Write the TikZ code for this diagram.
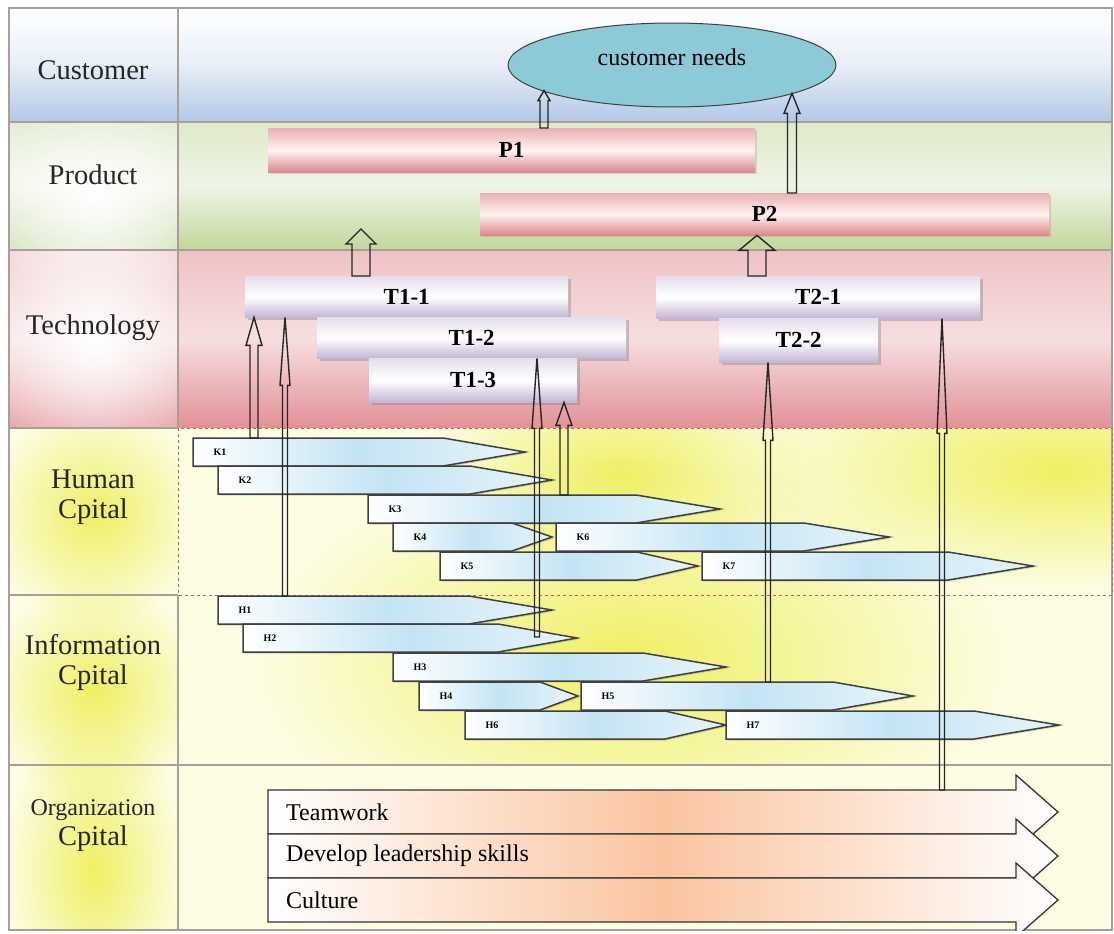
\documentclass[tikz,border=0pt]{standalone}
\usepackage{fontspec}
\setmainfont{Liberation Serif}
\usepackage{tikz}
\usetikzlibrary{calc,shapes,shadows,fadings}
\usepackage{xcolor}
\definecolor{custblue}{RGB}{178,200,230}
\definecolor{prodgreen}{RGB}{190,212,150}
\definecolor{techred}{RGB}{226,145,150}
\definecolor{capyellow}{RGB}{253,253,228}
\definecolor{glowyellow}{RGB}{240,240,100}
\definecolor{needsblue}{RGB}{140,202,216}
\definecolor{lavender}{RGB}{196,182,214}
\definecolor{barred}{RGB}{222,135,140}
\definecolor{chevblue}{RGB}{196,228,244}
\definecolor{peach}{RGB}{250,196,160}
\definecolor{gridgray}{RGB}{170,158,155}
\tikzfading[name=glow, inner color=transparent!0, outer color=transparent!100]
\tikzstyle{gridline}=[draw=gridgray, line width=1.2pt]
\tikzstyle{humanline}=[draw=red!45!gridgray, line width=1pt, dashed]
\tikzstyle{rowlabel}=[font=\fontsize{28.5}{30}\selectfont, align=center, text=black!85]
\tikzstyle{needs}=[ellipse, draw=black!75, line width=1pt, fill=needsblue, minimum width=328pt, minimum height=84pt, inner sep=0pt, text depth=16pt, font=\fontsize{24}{24}\selectfont]
\tikzstyle{prodbar}=[rectangle, anchor=north west, inner sep=0pt, top color=barred!65!white, bottom color=barred, middle color=red!5!white, font=\bfseries\fontsize{23}{23}\selectfont, drop shadow={shadow xshift=2pt, shadow yshift=-2pt, opacity=0.25}]
\tikzstyle{techbox}=[rectangle, anchor=north west, inner sep=0pt, top color=lavender!45!white, bottom color=lavender, middle color=white, font=\bfseries\fontsize{23}{23}\selectfont, drop shadow={shadow xshift=3pt, shadow yshift=-3pt, opacity=0.4}]
\tikzstyle{chev}=[draw=black!75, line width=1.5pt, left color=white, right color=chevblue!40!white, middle color=chevblue, drop shadow={shadow xshift=1.5pt, shadow yshift=-1.5pt, opacity=0.3}]
\tikzstyle{chevlabel}=[font=\bfseries\fontsize{10}{10}\selectfont, inner sep=0pt]
\tikzstyle{orgarrow}=[draw=black!80, line width=1.3pt, left color=white, right color=white, middle color=peach]
\tikzstyle{orglabel}=[anchor=west, inner sep=0pt, font=\fontsize{24}{24}\selectfont]
\tikzstyle{uparrow}=[draw=black!85, line width=1.4pt]
\newcommand{\chevron}[6]{
	\draw[chev] (#2,#3) -- (#4,#3) -- (#5,#3+14) -- (#4,#3+28) -- (#2,#3+28) -- cycle;
	\coordinate (#1) at (#2,#3);
	\node[chevlabel] (#1txt) at (#2+27,#3+14) {#6};
}
\newcommand{\orgArrow}[3]{
	\draw[orgarrow] (268,#2) -- (1016,#2) -- (1016,#2-15) -- (1058,#2+22) -- (1016,#2+59) -- (1016,#2+44) -- (268,#2+44) -- cycle;
	\coordinate (#1) at (268,#2);
	\node[orglabel] (#1txt) at (286,#2+22) {#3};
}
\newcommand{\hollowUp}[5]{
	\draw[uparrow] let \p1=#1, \p2=#2 in (\x1-#3pt,\y1) -- (\x1-#3pt,\y2-#5pt) -- (\x1-#4pt,\y2-#5pt) -- (\x1,\y2) -- (\x1+#4pt,\y2-#5pt) -- (\x1+#3pt,\y2-#5pt) -- (\x1+#3pt,\y1) -- cycle;
}
\begin{document}
\begin{tikzpicture}[x=1pt,y=-1pt]
	\useasboundingbox (0,0) rectangle (1114,934);
	\fill[white] (0,0) rectangle (1114,934);
	% rows
	\fill[top color=white, bottom color=custblue, middle color=custblue!30!white] (9,8) rectangle (1112,122);
	\fill[top color=prodgreen!50!white, bottom color=prodgreen!95!white, middle color=prodgreen!25!white] (9,122) rectangle (1112,250);
	\fill[top color=techred!55!white, bottom color=techred, middle color=techred!30!white] (9,250) rectangle (1112,428);
	\fill[capyellow] (9,428) rectangle (1112,930);
	% glows
	\begin{scope}
		\clip (9,122) rectangle (178,428);
		\fill[white, path fading=glow] (95,195) ellipse (150 and 110);
		\fill[white, path fading=glow] (95,340) ellipse (150 and 150);
	\end{scope}
	\begin{scope}
		\clip (9,428) rectangle (178,930);
		\fill[glowyellow, path fading=glow] (95,515) ellipse (110 and 110);
		\fill[glowyellow, path fading=glow] (95,692) ellipse (110 and 110);
		\fill[glowyellow, path fading=glow] (95,870) ellipse (90 and 150);
	\end{scope}
	\begin{scope}
		\clip (178,428) rectangle (1112,765);
		\fill[glowyellow, path fading=glow] (1060,470) ellipse (320 and 120);
		\fill[glowyellow, path fading=glow] (620,475) ellipse (200 and 110);
		\fill[glowyellow, path fading=glow] (630,660) ellipse (380 and 200);
	\end{scope}
	% grid
	\draw[gridline] (9,8) rectangle (1112,930);
	\draw[gridline] (9,122) -- (1112,122);
	\draw[gridline] (9,250) -- (1112,250);
	\draw[gridline] (9,428) -- (178,428);
	\draw[gridline] (9,595) -- (178,595);
	\draw[gridline] (9,765) -- (1112,765);
	\draw[gridline] (178,8) -- (178,428);
	\draw[gridline] (178,595) -- (178,930);
	\draw[humanline] (178,428) rectangle (1112,595);
	% row names
	\node[rowlabel] (custlab) at (93,70) {Customer};
	\node[rowlabel] (prodlab) at (93,175) {Product};
	\node[rowlabel] (techlab) at (93,328) {Technology};
	\node[rowlabel] (humlab) at (93,497) {Human\\Cpital};
	\node[rowlabel] (inflab) at (93,662) {Information\\Cpital};
	\node[rowlabel] (orglab) at (93,826) {{\fontsize{24}{24}\selectfont Organization}\\Cpital};
	% customer and products
	\node[needs] (needs) at (672,65) {customer needs};
	\node[prodbar, minimum width=487pt, minimum height=44pt] (P1) at (268,128) {P1};
	\node[prodbar, minimum width=569pt, minimum height=42pt] (P2) at (480,193) {P2};
	% technologies
	\node[techbox, minimum width=323pt, minimum height=41pt] (T11) at (245,276) {T1-1};
	\node[techbox, minimum width=309pt, minimum height=41pt] (T12) at (317,317) {T1-2};
	\node[techbox, minimum width=208pt, minimum height=44pt] (T13) at (369,358) {T1-3};
	\node[techbox, minimum width=324pt, minimum height=42pt] (T21) at (656,276) {T2-1};
	\node[techbox, minimum width=159pt, minimum height=44pt] (T22) at (719,318) {T2-2};
	% human capital
	\chevron{K1}{193}{438}{443}{525}{K1}
	\chevron{K2}{218}{466}{470}{552}{K2}
	\chevron{K3}{368}{495}{636}{720}{K3}
	\chevron{K4}{393}{523}{512}{552}{K4}
	\chevron{K6}{556}{523}{804}{889}{K6}
	\chevron{K5}{440}{552}{637}{698}{K5}
	\chevron{K7}{702}{552}{948}{1033}{K7}
	% information capital
	\chevron{H1}{218}{596}{469}{552}{H1}
	\chevron{H2}{243}{624}{498}{577}{H2}
	\chevron{H3}{393}{653}{643}{726}{H3}
	\chevron{H4}{419}{682}{540}{578}{H4}
	\chevron{H5}{581}{682}{833}{913}{H5}
	\chevron{H6}{465}{711}{665}{726}{H6}
	\chevron{H7}{726}{711}{974}{1059}{H7}
	% organization capital
	\begin{scope}
		\clip (9,8) rectangle (1112,930);
		\orgArrow{team}{790}{Teamwork}
		\orgArrow{lead}{834}{Develop leadership skills}
		\orgArrow{cult}{878}{Culture}
	\end{scope}
	% links
	\hollowUp{($(K1)+(61,0)$)}{(T11.south)}{4}{8}{28}
	\hollowUp{($(H1)+(67,0)$)}{(T11.south)}{2.5}{5}{68}
	\hollowUp{($(H2)+(294,13)$)}{(T12.south)}{2.5}{5}{70}
	\hollowUp{($(K3)+(196,0)$)}{(T13.south)}{4}{8}{23}
	\hollowUp{($(H5)+(187,0)$)}{(T22.south)}{2.5}{5}{78}
	\hollowUp{($(team)+(674,0)$)}{(T21.south)}{2.5}{5}{115}
	\hollowUp{($(T11.north west)+(116,0)$)}{($(T11.north)+(0,-47)$)}{9}{15}{15}
	\hollowUp{($(T21.north west)+(101,0)$)}{(P2.south)}{9}{18}{15}
	\hollowUp{($(P1.north west)+(276,0)$)}{(needs.191)}{4}{6}{10}
	\hollowUp{($(P2.north west)+(312,0)$)}{(needs.347)}{4.5}{8}{20}
\end{tikzpicture}
\end{document}
